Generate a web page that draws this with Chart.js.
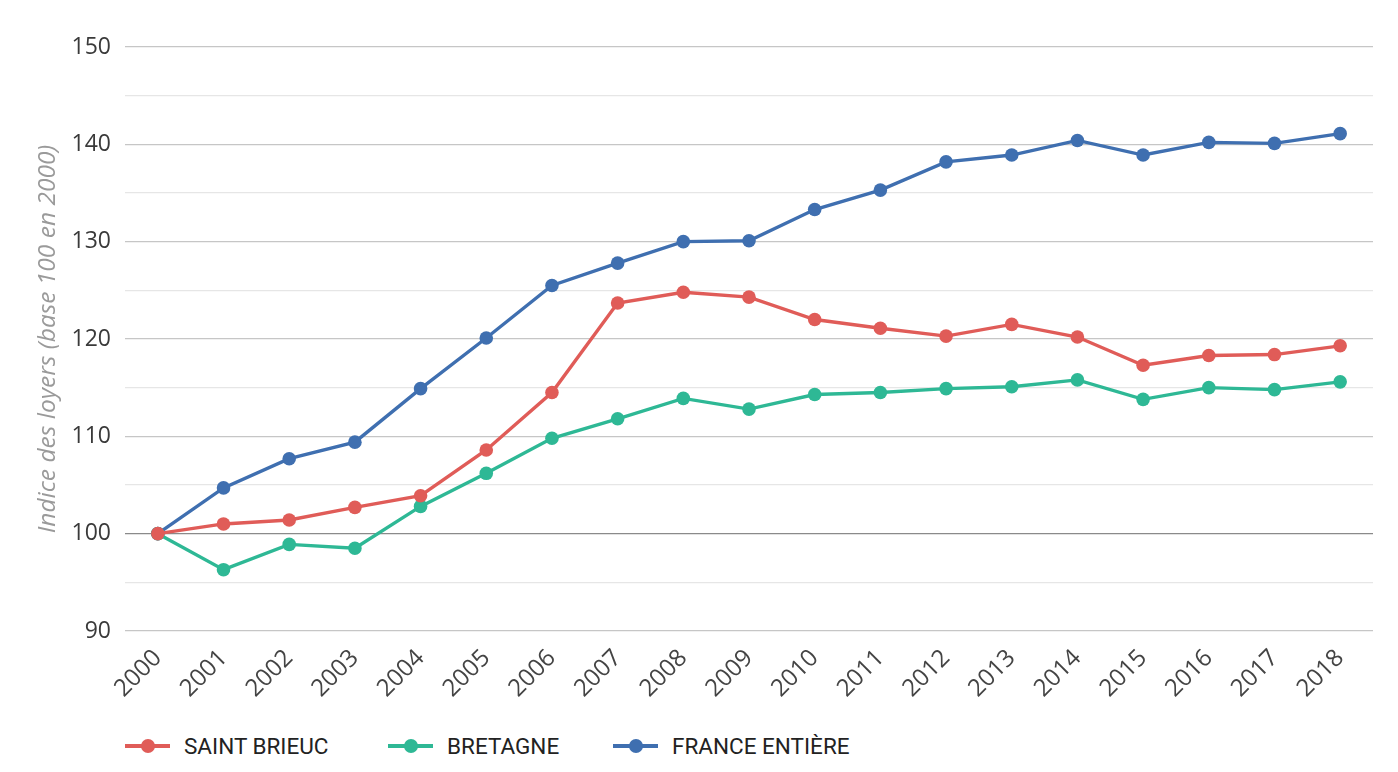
<!DOCTYPE html>
<html>
<head>
<meta charset="utf-8">
<script src="https://cdn.jsdelivr.net/npm/chart.js@4.4.1/dist/chart.umd.min.js"></script>
<style>
  html, body { margin: 0; padding: 0; background: #fff; }
  #wrap { position: relative; width: 1398px; height: 772px; }
  #chartBox { position: absolute; left: 0; top: 0; width: 1398px; height: 701px; }
  .item { position: absolute; top: 733px; display: flex; align-items: center; font-family: Roboto, sans-serif; font-size: 22.5px; color: #222; }
  .mark { position: relative; width: 45px; height: 14px; margin-right: 14px; }
  .mark .ln { position: absolute; left: 0; right: 0; top: 5px; height: 4px; }
  .mark .dt { position: absolute; left: 16px; top: 0; width: 14px; height: 14px; border-radius: 50%; }
</style>
</head>
<body>
<div id="wrap">
  <div id="chartBox"><canvas id="myChart"></canvas></div>
  <div id="legend"></div>
</div>
<script>
// data
const years = ['2000','2001','2002','2003','2004','2005','2006','2007','2008','2009',
               '2010','2011','2012','2013','2014','2015','2016','2017','2018'];
const saintBrieuc = [100, 101.0, 101.4, 102.7, 103.9, 108.6, 114.5, 123.7, 124.8, 124.3,
                     122.0, 121.1, 120.3, 121.5, 120.2, 117.3, 118.3, 118.4, 119.3];
const bretagne = [100, 96.3, 98.9, 98.5, 102.8, 106.2, 109.8, 111.8, 113.9, 112.8,
                  114.3, 114.5, 114.9, 115.1, 115.8, 113.8, 115.0, 114.8, 115.6];
const france = [100, 104.7, 107.7, 109.4, 114.9, 120.1, 125.5, 127.8, 130.0, 130.1,
                133.3, 135.3, 138.2, 138.9, 140.4, 138.9, 140.2, 140.1, 141.1];
const seriesNames = ['SAINT BRIEUC', 'BRETAGNE', 'FRANCE ENTIÈRE'];
const seriesColors = ['#e05c58', '#2eb895', '#3f6fb0'];
const legendLeft = [125, 388, 613];
const yTitle = 'Indice des loyers (base 100 en 2000)';

function makeSet(i, values) {
    return {
        label: seriesNames[i],
        data: values,
        borderColor: seriesColors[i],
        backgroundColor: seriesColors[i],
        borderWidth: 3.4,
        pointRadius: 6.8,
        pointHoverRadius: 6.8,
        pointBorderWidth: 0,
        tension: 0
    };
}

const myChart = new Chart(document.getElementById('myChart'), {
    type: 'line',
    data: {
        labels: years,
        datasets: [makeSet(0, saintBrieuc), makeSet(1, bretagne), makeSet(2, france)]
    },
    options: {
        responsive: true,
        maintainAspectRatio: false,
        animation: false,
        layout: { padding: { left: 33, right: 25, top: 47, bottom: 0 } },
        plugins: {
            legend: { display: false },
            tooltip: { enabled: false }
        },
        scales: {
            x: {
                offset: true,
                grid: { display: false },
                border: { display: false },
                afterFit: function (scale) { scale.height = 70; },
                ticks: {
                    minRotation: 45,
                    maxRotation: 45,
                    padding: 5,
                    color: '#444',
                    font: { family: 'Open Sans', size: 24 }
                }
            },
            y: {
                min: 90,
                max: 150,
                border: { display: false },
                afterFit: function (scale) { scale.width = 92; },
                grid: {
                    drawTicks: false,
                    lineWidth: 1.3,
                    color: function (ctx) {
                        const v = ctx.tick ? ctx.tick.value : 0;
                        if (v === 100) return '#8a8a8a';
                        if (v % 10 === 0) return '#c6c6c6';
                        return '#e6e6e6';
                    }
                },
                ticks: {
                    stepSize: 5,
                    padding: 14,
                    color: '#3a3a3a',
                    font: { family: 'Open Sans', size: 23 },
                    callback: function (value) {
                        return value % 10 === 0 ? value : '';
                    }
                },
                title: {
                    display: true,
                    text: yTitle,
                    color: '#9a9a9a',
                    padding: { top: 0, bottom: 6 },
                    font: { family: 'Open Sans', size: 24.5, style: 'italic' }
                }
            }
        }
    }
});

// legend below the chart
const legendBox = document.getElementById('legend');
for (var i = 0; i < seriesNames.length; i++) {
    legendBox.innerHTML += '<div class="item" style="left:' + legendLeft[i] + 'px"><div class="mark">' +
        '<div class="ln" style="background:' + seriesColors[i] + '"></div>' +
        '<div class="dt" style="background:' + seriesColors[i] + '"></div></div>' +
        '<span>' + seriesNames[i] + '</span></div>';
}
</script>
</body>
</html>
